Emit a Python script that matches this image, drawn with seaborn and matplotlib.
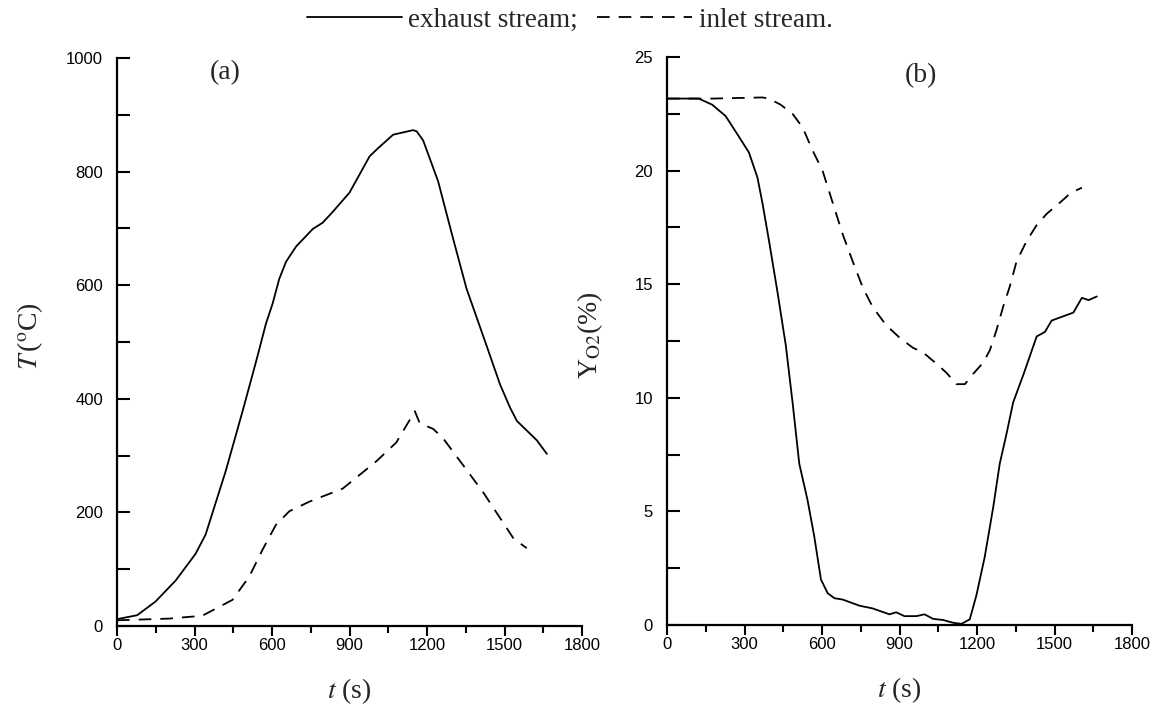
import numpy as np
import pandas as pd
import matplotlib
matplotlib.use("Agg")
import matplotlib.pyplot as plt
from matplotlib.ticker import MultipleLocator
import seaborn as sns

# ---- data ----
t_T_exh = [0, 78, 149, 227, 304, 343, 421, 486, 538, 577, 602, 628, 654, 693, 758, 796, 829, 900,
           978, 1010, 1069, 1146, 1160, 1185, 1243, 1301, 1353, 1431, 1483, 1522, 1548, 1625, 1664]
T_exh = [12, 19, 43, 80, 127, 161, 273, 378, 465, 533, 567, 611, 641, 668, 699, 710, 726, 763,
         827, 841, 865, 873, 871, 855, 783, 682, 594, 493, 425, 384, 361, 327, 303]

t_T_in = [0, 200, 330, 447, 512, 563, 615, 667, 745, 874, 1004, 1081, 1153, 1172, 1224, 1263,
          1340, 1418, 1496, 1535, 1586]
T_in = [10, 13, 18, 46, 87, 134, 178, 202, 219, 242, 290, 323, 378, 357, 347, 330,
        283, 235, 181, 154, 137]

t_Y_exh = [0, 123, 175, 227, 278, 317, 350, 369, 395, 427, 460, 486, 512, 544, 570, 596, 622, 648,
           680, 745, 796, 861, 887, 919, 965, 997, 1030, 1069, 1107, 1140, 1172, 1198, 1230, 1263,
           1288, 1314, 1340, 1379, 1431, 1463, 1489, 1573, 1606, 1632, 1664]
Y_exh = [23.17, 23.17, 22.9, 22.4, 21.5, 20.8, 19.7, 18.6, 16.9, 14.7, 12.3, 9.8, 7.1, 5.5, 3.9,
         2.0, 1.4, 1.18, 1.12, 0.85, 0.73, 0.47, 0.56, 0.39, 0.39, 0.47, 0.27, 0.22, 0.10, 0.05,
         0.25, 1.32, 3.0, 5.2, 7.1, 8.4, 9.8, 11.0, 12.7, 12.9, 13.4, 13.75, 14.4, 14.3, 14.46]

t_Y_in = [0, 175, 369, 395, 440, 486, 525, 563, 602, 641, 680, 719, 758, 796, 848, 900, 952, 991,
          1043, 1082, 1120, 1153, 1185, 1224, 1250, 1276, 1301, 1327, 1353, 1392, 1431, 1470,
          1522, 1561, 1606]
Y_in = [23.17, 23.17, 23.22, 23.17, 22.9, 22.5, 21.9, 20.9, 20.0, 18.6, 17.2, 16.0, 14.85, 14.0,
        13.2, 12.65, 12.2, 12.0, 11.5, 11.1, 10.6, 10.6, 11.05, 11.55, 12.1, 13.0, 14.0, 14.9,
        16.0, 16.9, 17.6, 18.1, 18.6, 19.0, 19.25]

series_labels = ["exhaust stream;", "inlet stream."]
panel_labels = ["(a)", "(b)"]
x_label = "$t$ (s)"
yl_left = r"$T\,$($^{\rm o}$C)"
yl_right = r"Y$_{\rm O2}$(%)"

# ---- style ----
sns.set_style("ticks")
plt.rcParams["font.family"] = ["Liberation Sans", "DejaVu Sans"]
plt.rcParams["mathtext.fontset"] = "stix"

fig = plt.figure(figsize=(11.65, 7.15), dpi=100)
axL = fig.add_axes([117 / 1165, 1 - 626 / 715, 465 / 1165, 568 / 715])
axR = fig.add_axes([667 / 1165, 1 - 625 / 715, 465 / 1165, 568 / 715])

lw = 1.3
dashes = (7, 5)

dfs = [
    (axL, pd.DataFrame({"t": t_T_exh, "v": T_exh}), "-"),
    (axL, pd.DataFrame({"t": t_T_in, "v": T_in}), "--"),
    (axR, pd.DataFrame({"t": t_Y_exh, "v": Y_exh}), "-"),
    (axR, pd.DataFrame({"t": t_Y_in, "v": Y_in}), "--"),
]
for i, (ax, df, ls) in enumerate(dfs):
    lab = series_labels[i % 2] if ax is axL else None
    sns.lineplot(data=df, x="t", y="v", ax=ax, color="black", linewidth=lw,
                 sort=False, label=lab, legend=False)
    line = ax.get_lines()[-1]
    if ls == "--":
        line.set_dashes(dashes)

serif = ["Liberation Serif", "DejaVu Serif"]
big = 20

for ax, ymax, ymaj, ymin_step, ylab, lx in [
    (axL, 1000, 200, 100, yl_left, -0.155),
    (axR, 25, 5, 2.5, yl_right, -0.133),
]:
    ax.set_xlim(0, 1800)
    ax.set_ylim(0, ymax)
    ax.xaxis.set_major_locator(MultipleLocator(300))
    ax.xaxis.set_minor_locator(MultipleLocator(150))
    ax.yaxis.set_major_locator(MultipleLocator(ymaj))
    ax.yaxis.set_minor_locator(MultipleLocator(ymin_step))
    ax.tick_params(axis="x", which="major", direction="out", length=7, width=1.5,
                   pad=1.5, labelsize=12, color="black")
    ax.tick_params(axis="x", which="minor", direction="out", length=5, width=1.5, color="black")
    ax.tick_params(axis="y", which="both", direction="in", length=9, width=1.5,
                   pad=10, labelsize=12, color="black")
    for s in ["top", "right"]:
        ax.spines[s].set_visible(False)
    for s in ["left", "bottom"]:
        ax.spines[s].set_linewidth(1.6)
        ax.spines[s].set_color("black")
    ax.set_xlabel(x_label, fontsize=big, family=serif)
    ax.xaxis.set_label_coords(0.5, -0.088)
    ax.set_ylabel(ylab, fontsize=big, family=serif)
    ax.yaxis.set_label_coords(lx, 0.51)
    for lb in ax.get_xticklabels() + ax.get_yticklabels():
        lb.set_color("black")

axL.text(418, 975, panel_labels[0], fontsize=big, family=serif, ha="center", va="center")
axR.text(983, 24.2, panel_labels[1], fontsize=big, family=serif, ha="center", va="center")

handles, labels = axL.get_legend_handles_labels()
fig.legend(handles, labels, loc="center", bbox_to_anchor=(0.489, 0.972), ncol=2,
           frameon=False, handlelength=3.5, handletextpad=0.25, columnspacing=0.7,
           prop={"family": serif, "size": 19.5})

fig.savefig("out.png", dpi=100, facecolor="white")
